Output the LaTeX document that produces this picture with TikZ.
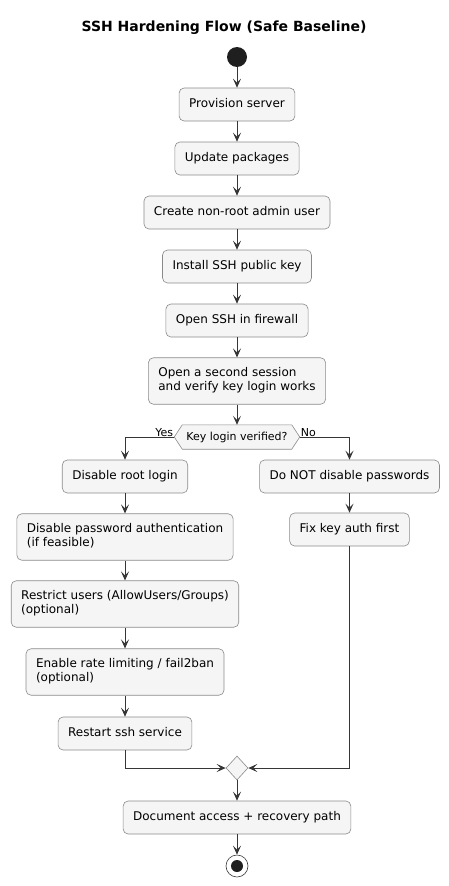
\documentclass[tikz,border=0pt]{standalone}
\usepackage{fontspec}
\setmainfont{DejaVu Sans}
\usepackage{xcolor}
\usetikzlibrary{arrows.meta,shapes.geometric,backgrounds}
\definecolor{boxgray}{HTML}{F5F5F5}
\definecolor{edgegray}{HTML}{8A8A8A}
\definecolor{linegray}{HTML}{363636}

\begin{document}
\begin{tikzpicture}[x=1pt,y=-1pt,
  act/.style={draw=edgegray,line width=0.6pt,fill=boxgray,rounded corners=5pt,align=left,
    inner xsep=10pt,inner ysep=9.25pt,font=\fontsize{12}{14.5}\selectfont,
    execute at begin node=\strut,execute at end node=\strut},
  flow/.style={draw=linegray,line width=1pt,-{Stealth[length=9pt,width=8pt,inset=4pt]}},
  tag/.style={font=\fontsize{11}{13}\selectfont,inner sep=1pt}]
\useasboundingbox (0,0) rectangle (449,886);
% Title
\node[font=\bfseries\fontsize{14}{16}\selectfont] (title) at (224,28) {SSH Hardening Flow (Safe Baseline)};
% Start
\node[circle,fill=black!88,minimum size=20pt,inner sep=0pt] (start) at (237,57) {};
% Main steps
\node[act] (provision) at (237,104.5) {Provision server};
\node[act] (update) at (237,158.5) {Update packages};
\node[act] (admin) at (237,212.5) {Create non-root admin user};
\node[act] (pubkey) at (237,266.5) {Install SSH public key};
\node[act] (firewall) at (237,320.5) {Open SSH in firewall};
\node[act] (session) at (237,381) {Open a second session\\and verify key login works};
% Decision
\node[font=\fontsize{11}{13}\selectfont,inner xsep=12pt,minimum height=24pt] (verified) at (237,437) {Key login verified?};
\begin{scope}[on background layer]
\draw[edgegray,line width=0.6pt,fill=boxgray] (verified.west) -- ([xshift=8pt]verified.north west)
  -- ([xshift=-8pt]verified.north east) -- (verified.east)
  -- ([xshift=-8pt]verified.south east) -- ([xshift=8pt]verified.south west) -- cycle;
\end{scope}
\node[tag,anchor=south east] (yes) at ([yshift=-1pt]verified.west) {Yes};
\node[tag,anchor=south west] (no) at ([yshift=-1pt]verified.east) {No};
% Yes branch
\node[act] (noroot) at (125,476.5) {Disable root login};
\node[act] (nopass) at (125,537) {Disable password authentication\\(if feasible)};
\node[act] (restrict) at (125,604) {Restrict users (AllowUsers/Groups)\\(optional)};
\node[act] (ratelimit) at (125,672) {Enable rate limiting / fail2ban\\(optional)};
\node[act] (restart) at (125,733.5) {Restart ssh service};
% No branch
\node[act] (keeppass) at (349.5,476.5) {Do NOT disable passwords};
\node[act] (fixkey) at (349.5,529.5) {Fix key auth first};
% Merge and end
\node[diamond,draw=edgegray,line width=0.6pt,fill=boxgray,minimum width=22pt,minimum height=24pt,inner sep=0pt] (merge) at (237,768) {};
\node[act] (document) at (237,817.5) {Document access + recovery path};
\node[circle,draw=linegray,line width=0.6pt,fill=white,minimum size=22pt,inner sep=0pt] (stop) at (237,866) {};
\fill[black!88] (stop.center) circle (6pt);
% Connectors
\draw[flow] (start) -- (provision);
\draw[flow] (provision) -- (update);
\draw[flow] (update) -- (admin);
\draw[flow] (admin) -- (pubkey);
\draw[flow] (pubkey) -- (firewall);
\draw[flow] (firewall) -- (session);
\draw[flow] (session) -- (verified.north);
\draw[flow] (verified.west) -| (noroot.north);
\draw[flow] (verified.east) -| (keeppass.north);
\draw[flow] (noroot) -- (nopass);
\draw[flow] (nopass) -- (restrict);
\draw[flow] (restrict) -- (ratelimit);
\draw[flow] (ratelimit) -- (restart);
\draw[flow] (keeppass) -- (fixkey);
\draw[flow] (restart.south) |- (merge.west);
\draw[flow] (fixkey.south) |- (merge.east);
\draw[flow] (merge) -- (document);
\draw[flow] (document) -- (stop);
\end{tikzpicture}
\end{document}
